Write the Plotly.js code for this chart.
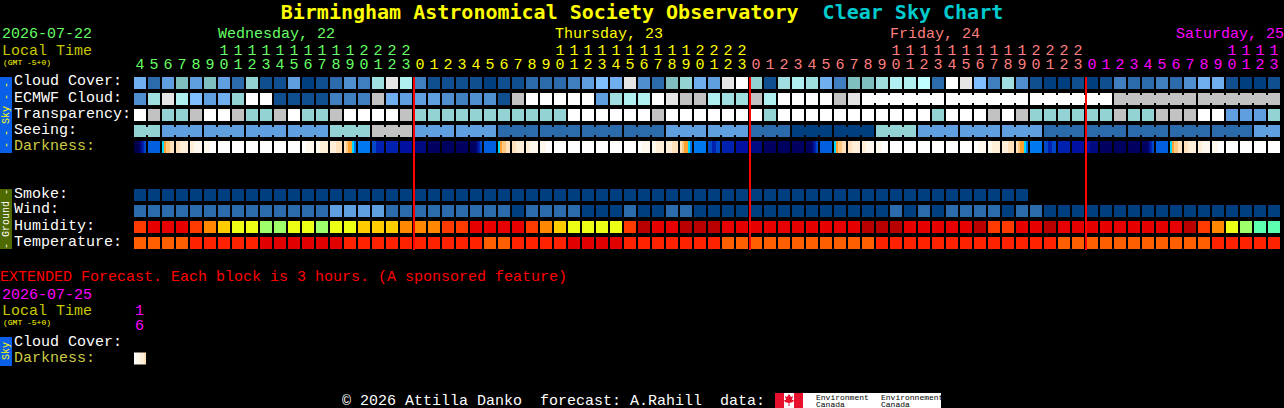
<!DOCTYPE html>
<html>
<head>
<meta charset="utf-8">
<script src="https://cdn.plot.ly/plotly-3.0.1.min.js"></script>
<style>
  html, body { margin: 0; padding: 0; background: #000; }
</style>
</head>
<body>
<div id="chart" style="width:1284px;height:408px;"></div>
<script>
// hour of each block, Wed 04h .. Sat 13h
const hours = [4,5,6,7,8,9,10,11,12,13,14,15,16,17,18,19,20,21,22,23,
  0,1,2,3,4,5,6,7,8,9,10,11,12,13,14,15,16,17,18,19,20,21,22,23,
  0,1,2,3,4,5,6,7,8,9,10,11,12,13,14,15,16,17,18,19,20,21,22,23,
  0,1,2,3,4,5,6,7,8,9,10,11,12,13];
const dayStarts = [0, 20, 44, 68];
const dayColors = ["#66ff66", "#ffff00", "#ff7f7f", "#ff00ff"];

// sky palette: 0 = clear dark blue .. 15 = overcast white
const skyColors = ["#003f7f","#0f4f8f","#2b6bab","#3f7fbf","#4f8fcf","#5f9fdf","#6fafef","#7fbfff",
  "#7fbfbf","#93d3d3","#9fdfdf","#afefef","#bfffff","#c2c2c2","#e5e5e5","#ffffff"];
const cloudCover = [6,2,5,8,5,8,5,2,9,1,1,5,0,1,2,4,3,10,14,11,
  3,1,1,1,1,0,1,1,2,2,2,3,5,7,6,14,4,2,8,9,6,5,14,15,
  9,1,10,11,10,6,3,8,8,10,11,11,12,2,15,14,7,3,10,4,1,0,0,1,
  0,1,3,2,2,3,2,4,6,6,1,0,0,1];
const ecmwfCloud = [4,10,14,11,7,5,6,9,15,15,1,1,1,1,3,3,3,13,6,5,
  5,5,4,3,4,4,1,13,15,15,15,15,15,5,10,11,11,15,14,13,13,11,10,10,
  13,11,15,15,15,15,13,14,15,15,15,15,15,15,15,15,15,15,15,15,15,15,15,15,
  15,15,13,13,13,13,13,13,13,13,13,13,13,13];
const ecmwfRunStarts = [52,58,64,70,76];
const transparency = [15,13,9,9,13,15,15,13,9,9,13,15,9,9,13,15,15,15,15,13,
  9,9,9,9,9,9,9,9,9,9,9,15,15,15,15,15,15,13,15,15,15,15,15,15,
  15,9,15,15,15,15,15,15,15,15,15,15,15,9,15,15,15,13,15,13,9,9,9,9,
  9,9,13,9,9,13,13,13,15,15,5,5,5,9];
const seeing = [9,9,5,5,5,5,5,5,5,5,5,5,5,5,9,9,9,13,13,13,
  5,5,5,5,5,5,2,2,2,2,2,2,2,2,2,2,2,2,5,5,5,5,5,5,
  2,2,2,0,0,0,0,0,0,9,9,9,5,5,5,5,5,5,5,5,5,2,2,2,
  2,2,2,2,2,2,2,2,2,2,2,2,5,5];
const seeingRunStarts = [0,2,5,8,11,14,17,20,23,26,29,32,35,38,41,44,47,50,53,56,59,62,65,68,71,74,77,80];
const smoke = [0,0,0,0,0,0,0,0,0,0,0,0,0,0,0,0,0,0,0,0,
  0,0,0,0,0,0,0,0,0,0,0,0,0,0,0,0,0,0,0,0,0,0,0,0,
  0,0,0,0,0,0,0,0,0,0,0,0,0,0,0,0,0,0,0,0,
  null,null,null,null,null,null,null,null,null,null,null,null,null,null,null,null,null,null];
const wind = [2,2,2,2,2,2,2,2,2,2,2,2,2,2,5,5,5,5,2,2,
  2,2,2,2,2,2,2,0,2,2,2,2,0,0,0,2,0,0,2,2,0,0,0,0,
  0,0,0,0,0,0,0,0,0,0,2,0,2,0,2,2,2,2,0,2,2,0,0,0,
  0,0,0,0,0,0,0,0,0,0,0,0,0,0];

// humidity and temperature palettes
const humidityColors = ["#b80000","#e60000","#ff3a00","#ff8800","#ffcc00","#ecff14","#9fff6a","#5cffb0"];
const humidity = [2,1,1,1,2,3,4,5,5,6,6,5,5,6,5,5,4,4,4,3,
  3,3,2,2,1,1,1,1,2,3,4,5,5,5,5,2,0,1,1,0,0,0,1,1,
  1,1,1,1,1,1,1,1,0,0,0,1,1,1,1,1,0,2,2,1,1,0,1,1,
  1,1,1,1,1,1,1,0,2,3,5,6,7,7];
const tempColors = ["#e00000","#ff2200","#ff5f00"];
const temperature = [2,2,2,2,1,1,1,1,1,0,0,0,0,0,0,1,1,1,1,1,
  1,1,1,1,1,2,2,1,1,1,1,0,0,0,0,1,1,1,1,1,1,1,2,2,
  2,2,2,2,2,2,2,2,2,1,1,1,1,1,1,1,1,1,1,1,1,1,2,2,
  2,2,2,2,2,2,2,2,2,1,1,1,1,1];

// darkness, six samples per block: 0 = daylight .. 14 = full night
const darkColors = ["#ffffff","#fff8ee","#ffeed8","#ffe2bc","#ffc880","#ffa030","#00d8ff","#0078f0",
  "#0060e0","#0048c8","#0020b0","#0010a0","#000a80","#000060","#000048"];
const darkness = [
  [14,14,13,12,10,9],[8,8,8,8,8,8],[6,5,4,4,3,3],[3,3,2,2,2,2],[2,2,1,1,1,1],[1,1,1,0,0,0],
  [0,0,0,0,0,0],[0,0,0,0,0,0],[0,0,0,0,0,0],[0,0,0,0,0,0],[0,0,0,0,0,0],[0,0,0,0,0,0],
  [0,0,1,1,1,1],[1,1,2,2,2,2],[2,2,2,3,3,3],[3,4,5,5,6,7],[7,7,7,7,7,7],[9,9,10,10,10,10],[10,10,10,10,10,10],[11,11,11,11,11,11],
  [12,12,12,12,12,12],[13,13,13,13,13,13],[13,13,13,13,13,13],[13,13,13,13,13,13],
  [13,13,13,12,10,9],[8,8,8,8,8,8],[6,5,4,4,3,3],[3,3,2,2,2,2],[2,2,1,1,1,1],[1,1,1,0,0,0],
  [0,0,0,0,0,0],[0,0,0,0,0,0],[0,0,0,0,0,0],[0,0,0,0,0,0],[0,0,0,0,0,0],[0,0,0,0,0,0],
  [0,0,1,1,1,1],[1,1,2,2,2,2],[2,2,2,3,3,3],[3,4,5,5,6,7],[7,7,7,7,7,7],[9,9,10,10,9,9],[10,10,10,10,10,10],[11,11,11,11,11,11],
  [12,12,12,12,12,12],[13,13,13,13,13,13],[13,13,13,13,13,13],[13,13,13,13,13,13],
  [13,13,13,12,10,9],[8,8,8,8,8,8],[6,5,4,4,3,3],[3,3,2,2,2,2],[2,2,1,1,1,1],[1,1,1,0,0,0],
  [0,0,0,0,0,0],[0,0,0,0,0,0],[0,0,0,0,0,0],[0,0,0,0,0,0],[0,0,0,0,0,0],[0,0,0,0,0,0],
  [0,0,1,1,1,1],[1,1,2,2,2,2],[2,2,2,3,3,3],[3,4,5,5,6,7],[7,7,7,7,7,7],[9,9,10,10,9,9],[10,10,10,10,10,10],[11,11,11,11,11,11],
  [11,11,12,12,12,12],[13,13,13,13,13,13],[13,13,13,13,13,13],[13,13,13,13,13,13],
  [13,13,13,12,10,9],[8,8,8,8,8,8],[6,5,4,4,3,3],[3,3,2,2,2,2],[2,2,1,1,1,1],[1,1,1,0,0,0],
  [0,0,0,0,0,0],[0,0,0,0,0,0],[0,0,0,0,0,0],[0,0,0,0,0,0]
];
const extDarkness = [[0,1,1,2,2,3]];

const W = 1284, H = 408;
const MONO = "Liberation Mono, DejaVu Sans Mono, monospace";
const xPx = (px) => (px - 140) / 14;
const yPx = (py) => (py - 83) / 16;

function scale(colors) {
  return colors.map((c, i) => [i / (colors.length - 1), c]);
}

function grid(rows, y0, colors, extra) {
  return Object.assign({
    type: "heatmap",
    z: rows,
    x0: 0, dx: 1,
    y0: y0, dy: 1,
    colorscale: scale(colors),
    zmin: 0, zmax: colors.length - 1,
    showscale: false,
    hoverinfo: "skip",
    xgap: 2, ygap: 4,
  }, extra);
}

// short bars that bridge the gap between blocks of one forecast run
function bridges(values, runStarts) {
  return values.slice(0, -1).map((v, i) => (runStarts.includes(i + 1) || i + 1 < runStarts[0] ? null : v));
}

function samples(blocks) {
  return [blocks.flatMap((b) => [...b, null])];
}

function digitTrace(text, y) {
  return {
    type: "scatter", mode: "text", x: hours.map((h, i) => i), y: hours.map(() => y),
    text: text, textposition: "middle center",
    textfont: {
      family: MONO, size: 15,
      color: hours.map((h, i) => dayColors[dayStarts.filter((s) => s <= i).length - 1]),
    },
    hoverinfo: "skip", showlegend: false,
  };
}

const midnightX = dayStarts.slice(1).flatMap((s) => [s - 3 / 7, s - 3 / 7, null]);
const midnightY = dayStarts.slice(1).flatMap(() => [yPx(77), yPx(250), null]);
const noRow = hours.slice(0, -1).map(() => null);

const traces = [
  grid([cloudCover, ecmwfCloud, transparency, seeing], 0, skyColors),
  grid([noRow, bridges(ecmwfCloud, ecmwfRunStarts), noRow, bridges(seeing, seeingRunStarts)], 0, skyColors,
    { x0: 0.5, xgap: 12, ygap: 8 }),
  grid(samples(darkness), 4, darkColors, { x0: -2.5 / 7, dx: 1 / 7, xgap: 0 }),
  grid([smoke, wind], 7, skyColors),
  grid([humidity], 9, humidityColors),
  grid([temperature], 10, tempColors),
  grid(samples(extDarkness), yPx(358.5), darkColors, { x0: -2.5 / 7, dx: 1 / 7, xgap: 0 }),
  digitTrace(hours.map((h) => (h >= 10 ? String(h)[0] : "")), yPx(51)),
  digitTrace(hours.map((h) => String(h % 10)), yPx(65)),
  {
    type: "scatter", mode: "lines", x: midnightX, y: midnightY,
    line: { color: "#ff0000", width: 2 }, hoverinfo: "skip", showlegend: false,
  },
];

function label(text, px, py, color, size, extra) {
  return Object.assign({
    text: text, xref: "paper", yref: "paper",
    x: px / W, y: 1 - py / H,
    xanchor: "left", yanchor: "middle",
    showarrow: false, borderpad: 0,
    font: { family: MONO, size: size || 15, color: color },
  }, extra);
}

const WHITE = "#ffffff";
const OLIVE = "#c8c800";
const DARKLABEL = "#cccc44";
const annotations = [
  label("2026-07-22", 1, 34, dayColors[0]),
  label("Wednesday, 22", 217, 34, dayColors[0]),
  label("Thursday, 23", 554, 34, dayColors[1]),
  label("Friday, 24", 889, 34, dayColors[2]),
  label("Saturday, 25", 1175, 34, dayColors[3]),
  label("Local Time", 1, 51, OLIVE),
  label("(GMT -5+0)", 2, 62, "#ffff00", 8),
  label("Cloud Cover:", 13, 82, WHITE),
  label("ECMWF Cloud:", 13, 98, WHITE),
  label("Transparency:", 13, 114, WHITE),
  label("Seeing:", 13, 130, WHITE),
  label("Darkness:", 13, 146, DARKLABEL),
  label("Smoke:", 13, 194, WHITE),
  label("Wind:", 13, 210, WHITE),
  label("Humidity:", 13, 226, WHITE),
  label("Temperature:", 13, 242, WHITE),
  label("EXTENDED Forecast. Each block is 3 hours. (A sponsored feature)", -1, 277, "#ff0000"),
  label("2026-07-25", 1, 295, dayColors[3]),
  label("Local Time", 1, 311, OLIVE),
  label("(GMT -5+0)", 2, 322, "#ffff00", 8),
  label("1", 134, 311, dayColors[3]),
  label("6", 134, 326, dayColors[3]),
  label("Cloud Cover:", 13, 342, WHITE),
  label("Darkness:", 13, 358, DARKLABEL),
  label("-\u00a0-\u00a0Sky\u00a0-\u00a0-", 6, 115, "#ffff00", 10, { xanchor: "center", textangle: -90 }),
  label("-\u00a0Ground\u00a0-", 6, 219, WHITE, 10, { xanchor: "center", textangle: -90 }),
  label("Sky", 6, 351, "#ffff00", 10, { xanchor: "center", textangle: -90 }),
  label("\u00a9 2026 Attilla Danko\u00a0 forecast: A.Rahill\u00a0 data:", 341, 401, WHITE),
  label("Environment", 815, 397, "#000000", 8),
  label("Canada", 815, 404, "#000000", 8),
  label("Environnement", 880, 397, "#000000", 8),
  label("Canada", 880, 404, "#000000", 8),
];

function box(x0, y0, x1, y1, color) {
  return {
    type: "rect", xref: "paper", yref: "paper", layer: "below",
    x0: x0 / W, x1: x1 / W, y0: 1 - y0 / H, y1: 1 - y1 / H,
    fillcolor: color, line: { width: 0 },
  };
}

// maple leaf outline of the flag, in page pixels
const leafPx = [[789,394],[791,397],[793,396],[792,400],[794,400],[793,402],[789.5,403],[789.5,406],
  [788.5,406],[788.5,403],[785,402],[784,400],[786,400],[785,396],[787,397]];
const leafPath = leafPx.map((p, i) => (i ? "L" : "M") + p[0] / W + "," + (1 - p[1] / H)).join(" ") + " Z";

const shapes = [
  box(0, 77, 12, 153, "#0a5fe8"),
  box(0, 189, 12, 249, "#4f6a00"),
  box(0, 337, 12, 366, "#0a5fe8"),
  box(803, 393, 941, 408, "#ffffff"),
  box(775, 393, 784, 408, "#e8112d"),
  box(784, 393, 794, 408, "#ffffff"),
  box(794, 393, 803, 408, "#e8112d"),
  { type: "path", xref: "paper", yref: "paper", layer: "below", path: leafPath, fillcolor: "#e8112d", line: { width: 0 } },
];

const layout = {
  width: W, height: H,
  margin: { l: 0, r: 0, t: 0, b: 0 },
  paper_bgcolor: "#000000",
  plot_bgcolor: "rgba(0,0,0,0)",
  showlegend: false,
  title: {
    text: "Birmingham Astronomical Society Observatory\u00a0\u00a0<span style=\"color:#00ccd0\">Clear Sky Chart</span>",
    font: { family: "DejaVu Sans Mono, monospace", size: 20, color: "#ffff00", weight: "bold" },
    x: 0.5, xanchor: "center", xref: "paper",
    y: 1 - 12 / H, yanchor: "middle", yref: "container",
  },
  xaxis: { range: [xPx(0), xPx(W)], visible: false, fixedrange: true },
  yaxis: { range: [yPx(H), yPx(0)], visible: false, fixedrange: true },
  annotations: annotations,
  shapes: shapes,
};

Plotly.newPlot("chart", traces, layout, { displayModeBar: false, staticPlot: true });
</script>
</body>
</html>
